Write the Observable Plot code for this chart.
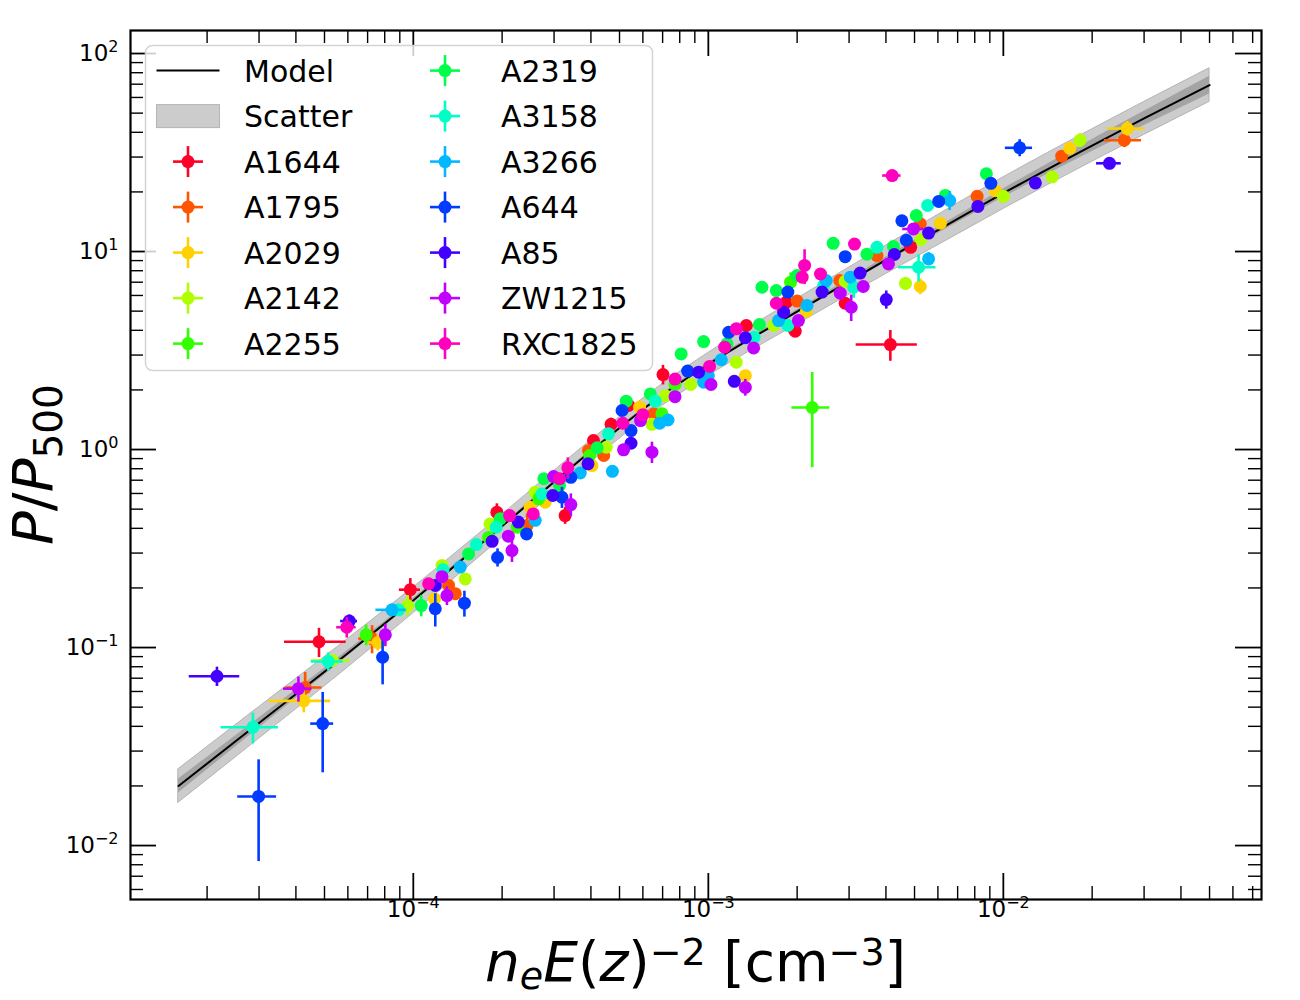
<!DOCTYPE html>
<html><head><meta charset="utf-8">
<script src="https://cdn.jsdelivr.net/npm/d3@7"></script>
<script src="https://cdn.jsdelivr.net/npm/@observablehq/plot@0.6"></script>
<style>body{margin:0;background:#fff;} #chart svg{font-family:"DejaVu Sans";}</style>
</head><body><div id="chart"></div><script>
// ---------------- data ----------------
const clusters = ["A1644","A1795","A2029","A2142","A2255","A2319","A3158","A3266","A644","A85","ZW1215","RXC1825"];
const colors = ["#ff0029","#ff5400","#ffd100","#afff00","#32ff00","#00ff4b","#00ffc7","#00b9ff","#003bff","#4300ff","#c100ff","#ff00bf"];

// each row: [n_e E(z)^-2, P/P500, xerr, yerr]
const A1644 = [[4.79e-5,0.107,1.13e-5,0.018],[9.77e-5,0.196,0.8e-5,0.027],[1.92e-4,0.482,0,0.05],[3.27e-4,0.464,0,0.045],[4.08e-4,1.11,0,0],[4.68e-4,1.34,0,0.1],[5.37e-4,1.67,0,0],[7.02e-4,2.39,0,0.27],[1.345e-3,4.23,0,0],[1.84e-3,5.55,0,0],[1.97e-3,3.96,0.1e-3,0],[2.91e-3,5.48,0,0],[4.85e-3,10.5,0,0],[4.14e-3,3.39,0.97e-3,0.6]];
const A1795 = [[4.30e-5,0.0628,0.6e-5,0.012],[7.25e-5,0.111,0.72e-5,0.018],[1.317e-4,0.206,0,0],[1.388e-4,0.187,0,0],[2.43e-4,0.413,0,0.06],[3.93e-4,0.99,0,0],[4.42e-4,0.933,0,0],[6.53e-4,1.515,0,0],[2.0e-3,5.62,0,0],[2.79e-3,7.14,0,0],[3.73e-3,9.54,0,0],[5.23e-3,13.8,0,0],[8.15e-3,19.0,0,0],[1.577e-2,30.3,0,0],[2.57e-2,36.5,0.37e-2,3]];
const A2029 = [[4.25e-5,0.0538,1.0e-5,0.007],[7.58e-5,0.106,0.6e-5,0.01],[1.18e-4,0.176,0,0],[2.49e-4,0.511,0,0],[2.80e-4,0.542,0,0],[4.03e-4,0.83,0,0],[5.85e-4,1.636,0,0],[1.335e-3,2.36,0,0],[2.15e-3,4.99,0,0],[5.23e-3,6.66,0,0.6],[6.12e-3,13.9,0,0],[9.39e-3,20.3,0,0],[1.68e-2,33.2,0,0],[2.63e-2,41.8,0.37e-2,3.5]];
const A2142 = [[5.31e-5,0.086,0.8e-5,0],[9.57e-5,0.163,0,0.02],[1.251e-4,0.26,0,0],[1.50e-4,0.222,0,0],[1.82e-4,0.421,0,0],[2.59e-4,0.609,0,0],[4.51e-4,1.027,0,0],[6.44e-4,1.34,0,0],[7.15e-4,1.87,0,0],[8.72e-4,2.13,0,0],[1.244e-3,2.76,0,0],[1.665e-3,4.23,0,0],[2.91e-3,7.08,0,0],[4.66e-3,6.9,0,0.5],[5.26e-3,11.5,0,0],[1.0e-2,19.0,0,0],[1.464e-2,23.8,0,0],[1.82e-2,36.5,0,3]];
const A2255 = [[6.92e-5,0.116,0,0.014],[1.80e-4,0.36,0,0],[2.25e-4,0.405,0,0],[2.66e-4,0.564,0,0],[3.96e-4,0.933,0,0],[6.96e-4,1.515,0,0],[7.71e-4,2.13,0,0],[1.90e-3,7.0,0,0.8],[2.25e-3,1.63,0.33e-3,0.82]];
const A2319 = [[1.064e-4,0.163,0,0.02],[1.54e-4,0.297,0,0],[1.97e-4,0.447,0,0],[2.77e-4,0.712,0,0],[3.13e-4,0.658,0,0],[4.20e-4,1.02,0,0],[5.27e-4,1.754,0,0],[6.36e-4,1.91,0,0],[8.09e-4,3.04,0,0],[9.64e-4,3.51,0,0],[1.157e-3,3.42,0,0],[1.49e-3,4.28,0,0],[1.52e-3,6.6,0,0],[1.70e-3,6.35,0,0],[2.0e-3,7.56,0,0],[2.65e-3,11.0,0,0],[3.45e-3,9.7,0,0],[4.24e-3,10.6,0,0],[5.07e-3,15.2,0,0],[6.36e-3,19.2,0,0],[8.76e-3,24.7,0,0]];
const A3158 = [[2.86e-5,0.0396,0.63e-5,0.007],[5.15e-5,0.085,0.64e-5,0.009],[8.91e-5,0.155,0,0],[1.261e-4,0.247,0,0],[1.635e-4,0.331,0,0],[1.91e-4,0.405,0,0],[2.73e-4,0.597,0,0],[4.59e-4,1.20,0,0],[6.61e-4,1.754,0,0],[1.43e-3,3.69,0,0],[1.86e-3,4.23,0,0],[2.46e-3,6.73,0,0],[3.11e-3,6.6,0,0.8],[3.73e-3,10.5,0,0],[5.16e-3,8.33,0.75e-3,1.3],[5.54e-3,17.1,0,0]];
const A3266 = [[8.47e-5,0.155,1.0e-5,0],[1.443e-4,0.255,0,0],[2.59e-4,0.439,0,0],[3.68e-4,0.761,0,0],[4.73e-4,0.776,0,0],[6.84e-4,1.358,0,0],[7.3e-4,1.41,0,0],[9.64e-4,2.19,0,0],[1.0e-3,2.36,0,0],[1.107e-3,2.84,0,0],[1.73e-3,4.48,0,0],[2.16e-3,5.34,0,0],[2.51e-3,7.14,0,0],[3.03e-3,7.42,0,0],[5.58e-3,9.18,0,0.7],[6.58e-3,18.1,0,2]];
const A644 = [[2.99e-5,0.0177,0.45e-5,0.0094],[4.93e-5,0.0413,0.44e-5,0.018],[7.87e-5,0.0893,0.3e-5,0.0245],[1.187e-4,0.157,0,0.03],[1.49e-4,0.1675,0,0.025],[1.93e-4,0.285,0,0.03],[2.42e-4,0.375,0,0],[3.19e-4,0.574,0,0.07],[3.42e-4,0.724,0,0],[5.10e-4,1.575,0,0],[5.47e-4,1.247,0,0],[8.51e-4,2.49,0,0],[1.172e-3,3.91,0,0],[1.86e-3,6.24,0,0],[2.91e-3,9.42,0,0],[4.53e-3,14.3,0,0],[4.69e-3,11.4,0,0],[6.04e-3,17.9,0,0],[9.07e-3,22.1,0,0],[1.136e-2,33.4,0.12e-2,3.3]];
const A85 = [[2.16e-5,0.0716,0.42e-5,0.008],[6.07e-5,0.136,0.4e-5,0.01],[1.187e-4,0.206,0,0],[1.85e-4,0.344,0,0],[2.27e-4,0.43,0,0],[2.97e-4,0.586,0,0],[3.91e-4,0.847,0,0],[5.47e-4,1.076,0,0],[9.27e-4,2.46,0,0],[1.225e-3,2.21,0,0],[1.335e-3,3.67,0,0],[1.80e-3,4.94,0,0],[2.43e-3,6.24,0,0],[3.27e-3,7.78,0,0],[4.01e-3,5.72,0,0.6],[4.27e-3,9.66,0,0],[5.58e-3,12.4,0,0],[8.2e-3,16.9,0,0],[1.284e-2,22.2,0,0],[2.29e-2,27.9,0.22e-2,0]];
const ZW1215 = [[4.08e-5,0.062,0.45e-5,0.009],[8.04e-5,0.116,0,0.015],[1.30e-4,0.183,0,0.02],[1.251e-4,0.228,0,0],[2.10e-4,0.365,0,0],[2.16e-4,0.309,0,0.04],[2.99e-4,0.73,0,0],[3.42e-4,0.527,0,0.07],[5.16e-4,0.997,0,0],[5.89e-4,1.401,0,0],[6.44e-4,0.97,0,0.12],[7.71e-4,1.85,0,0],[1.021e-3,2.13,0,0],[1.335e-3,2.06,0,0.2],[1.424e-3,3.26,0,0],[2.02e-3,4.48,0,0],[2.80e-3,6.16,0,0],[3.05e-3,5.23,0,0.8],[3.35e-3,6.66,0,0],[4.08e-3,8.66,0,0],[4.96e-3,13.0,0.4e-3,0]];
const RXC1825 = [[5.95e-5,0.1266,0.45e-5,0.015],[1.127e-4,0.210,0,0],[2.12e-4,0.464,0,0],[2.55e-4,0.473,0,0],[3.13e-4,0.712,0,0],[3.34e-4,0.808,0,0.1],[5.13e-4,1.358,0,0],[6.0e-4,1.50,0,0],[7.71e-4,2.27,0,0],[1.01e-3,2.63,0,0],[1.136e-3,3.29,0,0],[1.244e-3,4.07,0,0],[1.70e-3,5.48,0,0],[2.08e-3,7.42,0,0],[2.12e-3,8.51,0,1.7],[2.40e-3,7.70,0,0],[3.13e-3,10.9,0,0],[4.2e-3,24.2,0.3e-3,0]];
const clusterData = [A1644,A1795,A2029,A2142,A2255,A2319,A3158,A3266,A644,A85,ZW1215,RXC1825];

// model curve + bands
const modelX  = [1.6e-5,3e-5,6e-5,1e-4,2e-4,4e-4,7e-4,1e-3,2e-3,4e-3,7e-3,1e-2,2e-2,3e-2,5e-2];
const modelY  = [0.020,0.0416,0.0935,0.173,0.41,0.98,1.89,2.69,4.97,9.08,14.6,19.7,34.3,47.0,69.3];
const scatLo  = [0.01645,0.0346,0.0792,0.149,0.3587,0.863,1.665,2.353,4.28,7.69,12.2,16.39,28.39,38.81,56.99];
const scatHi  = [0.0243,0.0500,0.1103,0.2009,0.4686,1.112,2.145,3.075,5.77,10.71,17.48,23.68,41.43,56.92,84.27];
const innerLo = [0.01845,0.03928,0.09034,0.1691,0.4024,0.9646,1.860,2.639,4.858,8.790,14.01,18.73,32.00,43.28,62.49];
const innerHi = [0.02168,0.04405,0.09677,0.1770,0.4178,0.9957,1.920,2.742,5.084,9.380,15.21,20.72,36.77,51.04,76.85];

// ticks
const xMajor = [1e-4,1e-3,1e-2];
const xMajorLabels = ["10|−4","10|−3","10|−2"];
const xMinor = [2e-5,3e-5,4e-5,5e-5,6e-5,7e-5,8e-5,9e-5,2e-4,3e-4,4e-4,5e-4,6e-4,7e-4,8e-4,9e-4,2e-3,3e-3,4e-3,5e-3,6e-3,7e-3,8e-3,9e-3,2e-2,3e-2,4e-2,5e-2,6e-2,7e-2];
const yMajor = [0.01,0.1,1,10,100];
const yMajorLabels = ["10|−2","10|−1","10|0","10|1","10|2"];
const yMinor = [0.006,0.007,0.008,0.009,0.02,0.03,0.04,0.05,0.06,0.07,0.08,0.09,0.2,0.3,0.4,0.5,0.6,0.7,0.8,0.9,2,3,4,5,6,7,8,9,20,30,40,50,60,70,80,90];

// ---------------- layout ----------------
const W = 1300, H = 1000, mL = 130, mR = 39, mT = 30, mB = 101;
const fw = W - mL - mR, fh = H - mT - mB;
const MAJ = 26, MIN = 13;

const band = modelX.map((x,i)=>({x, y:modelY[i], slo:scatLo[i], shi:scatHi[i], ilo:innerLo[i], ihi:innerHi[i]}));

const marks = [
  Plot.areaY(band, {x:"x", y1:"slo", y2:"shi", fill:"#cccccc", stroke:"#b4b4b4", strokeWidth:1, curve:"monotone-x"}),
  Plot.areaY(band, {x:"x", y1:"ilo", y2:"ihi", fill:"#a4a4a4", curve:"monotone-x"}),
  Plot.line(band, {x:"x", y:"y", stroke:"black", strokeWidth:2, curve:"monotone-x"})
];
clusters.forEach((c,i)=>{
  const rows = clusterData[i].map(([x,y,xe,ye])=>({cluster:c, x, y, xe, ye}));
  marks.push(Plot.ruleY(rows.filter(r=>r.xe>0), {y:"y", x1:r=>r.x-r.xe, x2:r=>r.x+r.xe, stroke:colors[i], strokeWidth:2.6}));
  marks.push(Plot.ruleX(rows.filter(r=>r.ye>0), {x:"x", y1:r=>r.y-r.ye, y2:r=>r.y+r.ye, stroke:colors[i], strokeWidth:2.6}));
  marks.push(Plot.dot(rows, {x:"x", y:"y", r:6.5, fill:colors[i], stroke:null}));
});
// inward ticks on all four sides
marks.push(
  Plot.ruleX(xMajor, {x:d=>d, insetTop: fh-MAJ, stroke:"black", strokeWidth:1.8}),
  Plot.ruleX(xMajor, {x:d=>d, insetBottom: fh-MAJ, stroke:"black", strokeWidth:1.8}),
  Plot.ruleX(xMinor, {x:d=>d, insetTop: fh-MIN, stroke:"black", strokeWidth:1.4}),
  Plot.ruleX(xMinor, {x:d=>d, insetBottom: fh-MIN, stroke:"black", strokeWidth:1.4}),
  Plot.ruleY(yMajor, {y:d=>d, insetRight: fw-MAJ, stroke:"black", strokeWidth:1.8}),
  Plot.ruleY(yMajor, {y:d=>d, insetLeft: fw-MAJ, stroke:"black", strokeWidth:1.8}),
  Plot.ruleY(yMinor, {y:d=>d, insetRight: fw-MIN, stroke:"black", strokeWidth:1.4}),
  Plot.ruleY(yMinor, {y:d=>d, insetLeft: fw-MIN, stroke:"black", strokeWidth:1.4}),
  Plot.frame({stroke:"black", strokeWidth:2.2}),
  Plot.text(xMajor, {x:d=>d, text:(d,i)=>xMajorLabels[i], frameAnchor:"bottom", dy:17, fontSize:23, fill:"black"}),
  Plot.text(yMajor, {y:d=>d, text:(d,i)=>yMajorLabels[i], frameAnchor:"left", dx:-12, textAnchor:"end", fontSize:23, fill:"black"})
);

const svg = Plot.plot({
  width: W, height: H, marginLeft: mL, marginRight: mR, marginTop: mT, marginBottom: mB,
  style: {fontFamily:"DejaVu Sans", background:"white", overflow:"visible"},
  x: {type:"log", domain:[1.1e-5, 0.075], axis:null},
  y: {type:"log", domain:[0.00534, 130.7], axis:null},
  marks
});
document.getElementById("chart").append(svg);

// --- render "10|e" labels as 10 with superscript
svg.querySelectorAll("text").forEach(t=>{
  const s = t.textContent;
  if (/^10\|/.test(s)) {
    const [b, e] = s.split("|");
    t.textContent = "";
    const ns = "http://www.w3.org/2000/svg";
    const a = document.createElementNS(ns,"tspan"); a.textContent = b; t.appendChild(a);
    const sp = document.createElementNS(ns,"tspan"); sp.textContent = e;
    sp.setAttribute("font-size","16"); sp.setAttribute("dy","-9"); t.appendChild(sp);
  }
});

const S = d3.select(svg);
const addT = (sel, txt, opts={}) => { const t = sel.append("tspan").text(txt); for (const k in opts) t.attr(k, opts[k]); return t; };
// --- axis labels
const xl = S.append("text").attr("x", mL + fw/2).attr("y", 981).attr("text-anchor","middle")
  .attr("font-size", 55).attr("font-family","DejaVu Sans").attr("fill","black");
addT(xl, "n", {"font-style":"italic"});
addT(xl, "e", {"font-style":"italic", "font-size":38, dy:8});
addT(xl, "E", {"font-style":"italic", dy:-8});
addT(xl, "(");
addT(xl, "z", {"font-style":"italic"});
addT(xl, ")");
addT(xl, "−2", {"font-size":38, dy:-16});
addT(xl, " [cm", {dy:16});
addT(xl, "−3", {"font-size":38, dy:-16});
addT(xl, "]", {dy:16});

const yl = S.append("text").attr("transform", `translate(52,${mT + fh/2}) rotate(-90)`).attr("text-anchor","middle")
  .attr("font-size", 56).attr("font-family","DejaVu Sans").attr("fill","black");
addT(yl, "P", {"font-style":"italic"});
addT(yl, "/");
addT(yl, "P", {"font-style":"italic"});
addT(yl, "500", {"font-size":39, dy:10});

// --- legend
const lg = S.append("g").attr("font-family","DejaVu Sans").attr("font-size",30).attr("text-anchor","start");
lg.append("rect").attr("x",145.5).attr("y",45.5).attr("width",507).attr("height",325).attr("rx",7)
  .attr("fill","white").attr("fill-opacity",0.8).attr("stroke","#d4d4d4").attr("stroke-width",1.5);
const rowY = i => 70.6 + i*45.5;
const col = [{hx:188, tx:244}, {hx:445, tx:501}];
// Model
lg.append("line").attr("x1",156.5).attr("x2",219.5).attr("y1",rowY(0)).attr("y2",rowY(0)).attr("stroke","black").attr("stroke-width",2);
lg.append("text").attr("x",col[0].tx).attr("y",rowY(0)+11).attr("text-anchor","start").text("Model");
// Scatter
lg.append("rect").attr("x",156.5).attr("y",rowY(1)-11.5).attr("width",63).attr("height",23).attr("fill","#cccccc").attr("stroke","#b4b4b4").attr("stroke-width",1);
lg.append("text").attr("x",col[0].tx).attr("y",rowY(1)+11).attr("text-anchor","start").text("Scatter");
clusters.forEach((c,i)=>{
  const ci = i < 5 ? 0 : 1;
  const ri = i < 5 ? i + 2 : i - 5;
  const cx = col[ci].hx, cy = rowY(ri);
  lg.append("line").attr("x1",cx-15).attr("x2",cx+15).attr("y1",cy).attr("y2",cy).attr("stroke",colors[i]).attr("stroke-width",2.6);
  lg.append("line").attr("x1",cx).attr("x2",cx).attr("y1",cy-15.5).attr("y2",cy+15.5).attr("stroke",colors[i]).attr("stroke-width",2.6);
  lg.append("circle").attr("cx",cx).attr("cy",cy).attr("r",6.5).attr("fill",colors[i]);
  lg.append("text").attr("x",col[ci].tx).attr("y",cy+11).attr("text-anchor","start").text(c);
});
</script></body></html>
